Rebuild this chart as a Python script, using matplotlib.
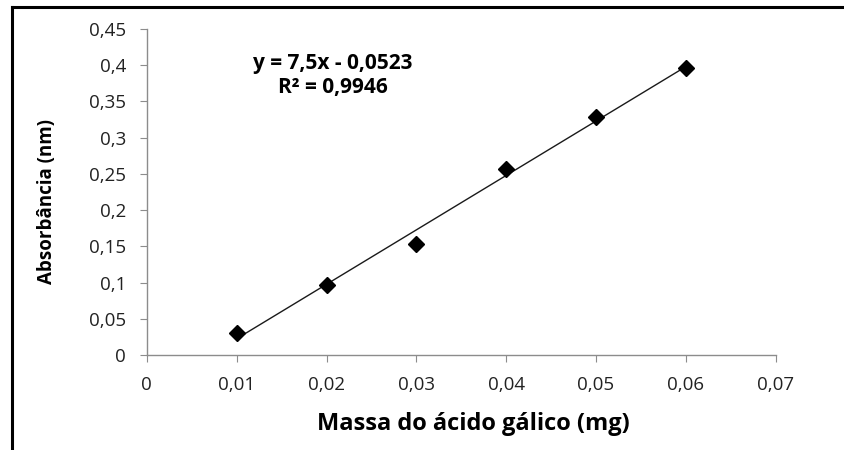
import matplotlib
matplotlib.use('Agg')
import matplotlib.pyplot as plt
import numpy as np
from matplotlib.lines import Line2D
from matplotlib.ticker import FuncFormatter

massa = [0.01, 0.02, 0.03, 0.04, 0.05, 0.06]          # mg
absorb = [0.030, 0.097, 0.153, 0.257, 0.328, 0.396]   # nm
xticks = [0, 0.01, 0.02, 0.03, 0.04, 0.05, 0.06, 0.07]
yticks = [0, 0.05, 0.1, 0.15, 0.2, 0.25, 0.3, 0.35, 0.4, 0.45]

plt.rcParams['font.family'] = ['Open Sans', 'DejaVu Sans']

fig = plt.figure(figsize=(8.44, 4.5), dpi=100)
ax = fig.add_axes([0.174, 0.211, 0.745, 0.725])

# trendline (least squares, like Excel)
a, b = np.polyfit(massa, absorb, 1)
xl = np.array([min(massa), max(massa)])
ax.plot(xl, a * xl + b, color='#1a1a1a', lw=1)
ax.plot(massa, absorb, linestyle='none', marker='D', color='black', markersize=8.5)

ax.set_xlim(0, 0.07)
ax.set_ylim(0, 0.45)
ax.set_xticks(xticks)
ax.set_yticks(yticks)
fmt = FuncFormatter(lambda v, p: ('%g' % round(v, 3)).replace('.', ','))
ax.xaxis.set_major_formatter(fmt)
ax.yaxis.set_major_formatter(fmt)

for s in ['top', 'right']:
    ax.spines[s].set_visible(False)
for s in ['left', 'bottom']:
    ax.spines[s].set_color('#8c8c8c')
    ax.spines[s].set_linewidth(1)
ax.tick_params(direction='out', length=5, color='#8c8c8c', labelsize=13.5,
               labelcolor='#222222')
ax.tick_params(axis='x', pad=10)
ax.tick_params(axis='y', pad=10)

ax.set_xlabel('Massa do ácido gálico (mg)', fontsize=17, fontweight='bold', va='center')
ax.set_ylabel('Absorbância (nm)', fontsize=13.5, fontweight='bold', va='center')
ax.xaxis.set_label_coords(0.519, -0.212)
ax.yaxis.set_label_coords(-0.159, 0.471)

ax.text(0.0207, 0.4015, 'y = 7,5x - 0,0523', ha='center', va='center',
        fontsize=15, fontweight='bold')
ax.text(0.0207, 0.369, 'R² = 0,9946', ha='center', va='center',
        fontsize=15, fontweight='bold')

# frame of the pasted chart (only top and left edges visible)
fig.add_artist(Line2D([12 / 844, 1], [1 - 7 / 450, 1 - 7 / 450], color='black', lw=2.2,
                      transform=fig.transFigure))
fig.add_artist(Line2D([12 / 844, 12 / 844], [0, 1 - 7 / 450], color='black', lw=2.2,
                      transform=fig.transFigure))

plt.savefig('out.png', dpi=100)
